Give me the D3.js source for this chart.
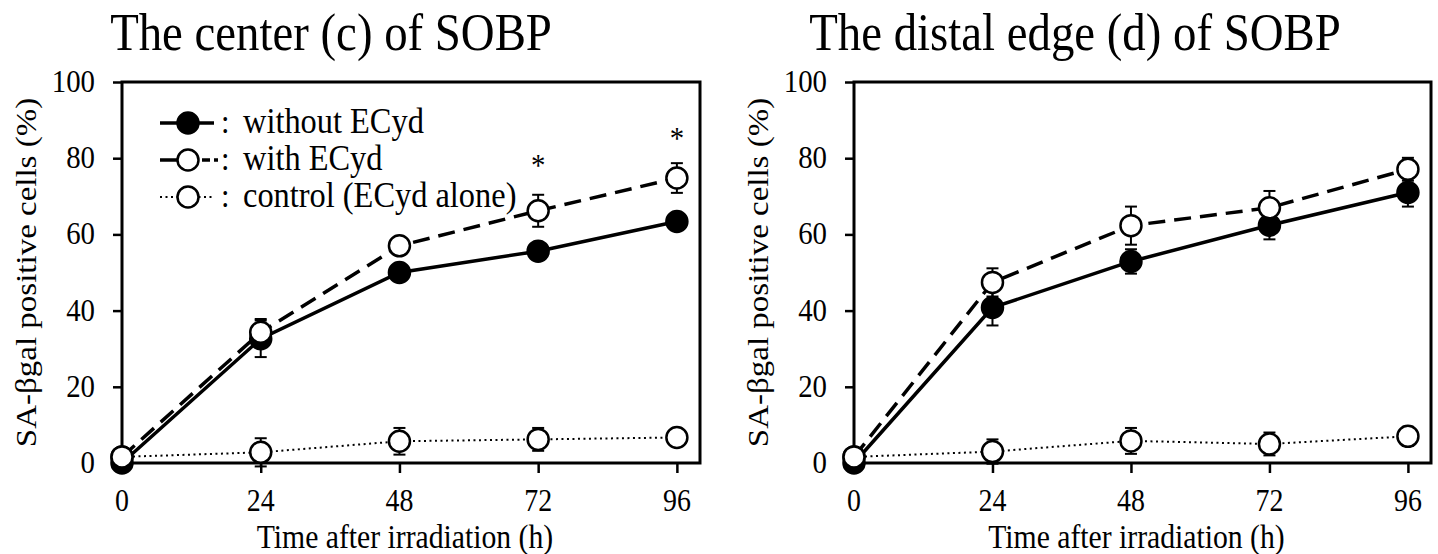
<!DOCTYPE html>
<html>
<head>
<meta charset="utf-8">
<script src="https://cdn.jsdelivr.net/npm/d3@7"></script>
<style>
  body { margin: 0; background: #fff; }
</style>
</head>
<body>
<svg id="chart" width="1438" height="554"></svg>
<script>
// time points (h)
const hours = [0, 24, 48, 72, 96];
const xTicks = [0, 24, 48, 72, 96];
const yTicks = [0, 20, 40, 60, 80, 100];

// center (c) of SOBP
const centerWithout = [0, 32.6, 50.0, 55.6, 63.4];
const centerWithoutErr = [0.8, 4.8, 1.4, 1.0, 2.2];
const centerWith = [1.6, 34.3, 57.0, 66.2, 74.8];
const centerWithErr = [0.8, 3.5, 1.0, 4.2, 3.9];
const centerControl = [1.6, 2.8, 5.7, 6.2, 6.7];
const centerControlErr = [0.8, 3.7, 3.5, 3.0, 2.3];
const centerStars = [72, 96];
const centerStarY = [79, 86];

// distal edge (d) of SOBP
const distalWithout = [0, 40.8, 52.9, 62.4, 71.0];
const distalWithoutErr = [0.8, 4.7, 3.2, 3.7, 3.7];
const distalWith = [1.6, 47.4, 62.3, 67.0, 77.1];
const distalWithErr = [0.8, 3.7, 5.0, 4.4, 3.0];
const distalControl = [1.6, 3.0, 5.8, 5.0, 7.0];
const distalControlErr = [0.8, 3.2, 3.4, 3.0, 2.5];

const titles = ["The center (c) of SOBP", "The distal edge (d) of SOBP"];
const legendLabels = ["without ECyd", "with ECyd", "control (ECyd alone)"];
const xLabel = "Time after irradiation (h)";
const yLabel = "SA-\u03b2gal positive cells (%)";

const FONT = "'Liberation Serif', 'Times New Roman', serif";

const svg = d3.select("#chart");
svg.append("rect").attr("width", 1438).attr("height", 554).attr("fill", "#fff");

const styles = {
  without: { dash: null, width: 3.5, fill: "#000" },
  with: { dash: "17,9", width: 3.5, fill: "#fff" },
  control: { dash: "2,3.5", width: 2, fill: "#fff" }
};
const legendDash = { without: null, with: "17,25,8,4,4,20", control: "2,3.5" };

const panels = [
  { left: 122, right: 700, titleX: 331, series: [
      { key: "control", v: centerControl, e: centerControlErr },
      { key: "without", v: centerWithout, e: centerWithoutErr },
      { key: "with", v: centerWith, e: centerWithErr } ],
    stars: true, legend: true },
  { left: 854, right: 1431, titleX: 1075, series: [
      { key: "control", v: distalControl, e: distalControlErr },
      { key: "without", v: distalWithout, e: distalWithoutErr },
      { key: "with", v: distalWith, e: distalWithErr } ],
    stars: false, legend: false }
];

const plotTop = 82, plotBottom = 463;
const sx = 0.9; // the source text is slightly narrowed

function hText(g, x, y, str, size, anchor) {
  return g.append("text")
    .attr("transform", `translate(${x},${y}) scale(${sx},1)`)
    .attr("text-anchor", anchor || "middle")
    .attr("font-family", FONT)
    .attr("font-size", size)
    .attr("fill", "#000")
    .text(str);
}

panels.forEach((p, pi) => {
  const x = d3.scaleLinear().domain([0, 100]).range([p.left, p.right]);
  const y = d3.scaleLinear().domain([0, 100]).range([plotBottom, plotTop]);
  const g = svg.append("g");

  // axes
  const xa = g.append("g").attr("transform", `translate(0,${plotBottom})`)
    .call(d3.axisBottom(x).tickValues(xTicks).tickSize(10).tickSizeOuter(0).tickFormat(() => ""));
  xa.select(".domain").remove();
  xa.selectAll(".tick line").attr("stroke", "#000").attr("stroke-width", 2.5);
  xTicks.forEach(t => hText(g, x(t), 511, String(t), 31));

  const ya = g.append("g").attr("transform", `translate(${p.left},0)`)
    .call(d3.axisLeft(y).tickValues(yTicks).tickSize(9).tickSizeOuter(0).tickFormat(() => ""));
  ya.select(".domain").remove();
  ya.selectAll(".tick line").attr("stroke", "#000").attr("stroke-width", 2.5);
  yTicks.forEach(t => hText(g, p.left - 27, y(t) + 10, String(t), 32, "end"));

  g.append("rect")
    .attr("x", p.left).attr("y", plotTop)
    .attr("width", p.right - p.left).attr("height", plotBottom - plotTop)
    .attr("fill", "none").attr("stroke", "#000").attr("stroke-width", 3);

  // titles and labels
  hText(g, p.titleX, 50, titles[pi], 52);
  hText(g, (p.left + p.right) / 2 - 6, 548, xLabel, 33);
  g.append("text")
    .attr("transform", `translate(${p.left - 86},${(plotTop + plotBottom) / 2}) rotate(-90) scale(1,${sx})`)
    .attr("text-anchor", "middle")
    .attr("font-family", FONT)
    .attr("font-size", 33)
    .text(yLabel);

  const line = d3.line().x((d, i) => x(hours[i])).y(d => y(d));

  // lines
  p.series.forEach(s => {
    const st = styles[s.key];
    g.append("path")
      .datum(s.v)
      .attr("d", line)
      .attr("fill", "none")
      .attr("stroke", "#000")
      .attr("stroke-width", st.width)
      .attr("stroke-dasharray", st.dash);
  });

  // error bars + markers
  p.series.forEach(s => {
    const st = styles[s.key];
    const eb = g.append("g").attr("stroke", "#000").attr("stroke-width", 2);
    s.v.forEach((v, i) => {
      const cx = x(hours[i]);
      eb.append("line").attr("x1", cx).attr("x2", cx).attr("y1", y(v - s.e[i])).attr("y2", y(v + s.e[i]));
      [v - s.e[i], v + s.e[i]].forEach(ev => {
        eb.append("line").attr("x1", cx - 6).attr("x2", cx + 6).attr("y1", y(ev)).attr("y2", y(ev));
      });
    });
    g.append("g").selectAll("circle")
      .data(s.v)
      .join("circle")
        .attr("cx", (d, i) => x(hours[i]))
        .attr("cy", d => y(d))
        .attr("r", 10.5)
        .attr("fill", st.fill)
        .attr("stroke", "#000")
        .attr("stroke-width", 2.5);
  });

  if (p.stars) {
    centerStars.forEach((h, i) => hText(g, x(h), y(centerStarY[i]) + 14, "*", 32));
  }

  if (p.legend) {
    const lg = g.append("g");
    ["without", "with", "control"].forEach((k, i) => {
      const st = styles[k];
      const ly = 123 + i * 37;
      lg.append("line")
        .attr("x1", 160).attr("x2", k === "with" ? 218 : 214).attr("y1", ly).attr("y2", ly)
        .attr("stroke", "#000").attr("stroke-width", st.width)
        .attr("stroke-dasharray", legendDash[k]);
      lg.append("circle")
        .attr("cx", 188).attr("cy", ly).attr("r", 10.5)
        .attr("fill", st.fill).attr("stroke", "#000").attr("stroke-width", 2.5);
      hText(lg, 221, ly + 10, ":", 34, "start");
      hText(lg, 243, ly + 10, legendLabels[i], 36, "start");
    });
  }
});
</script>
</body>
</html>
